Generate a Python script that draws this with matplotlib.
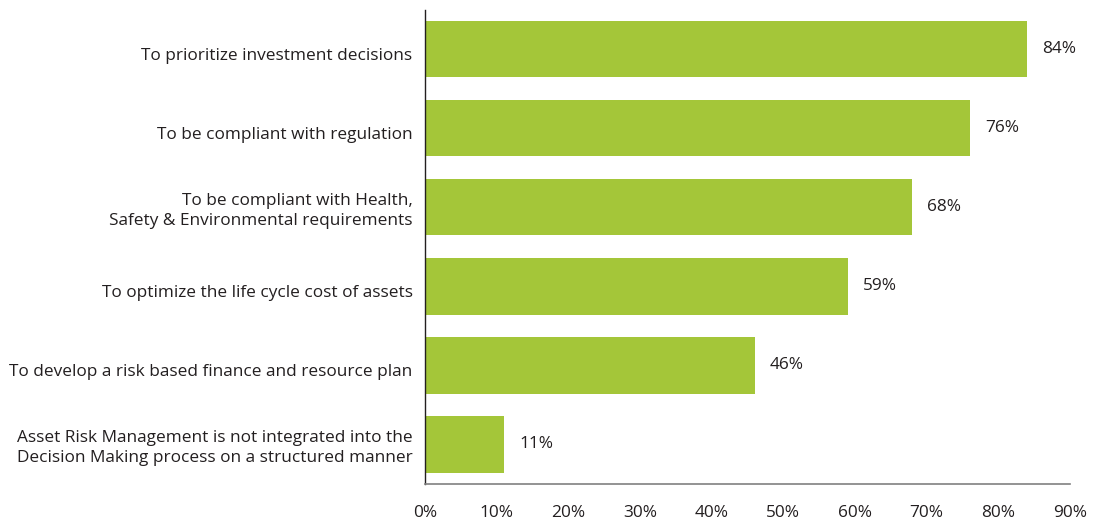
import matplotlib.pyplot as plt
import matplotlib.transforms as mtransforms
import numpy as np

plt.rcParams['font.family'] = ['Open Sans', 'DejaVu Sans']

categories = [
    'To prioritize investment decisions',
    'To be compliant with regulation',
    'To be compliant with Health,\nSafety & Environmental requirements',
    'To optimize the life cycle cost of assets',
    'To develop a risk based finance and resource plan',
    'Asset Risk Management is not integrated into the\nDecision Making process on a structured manner',
]
values = [84, 76, 68, 59, 46, 11]
xticks = [0, 10, 20, 30, 40, 50, 60, 70, 80, 90]

text_color = '#231f20'
bar_color = '#a4c639'
fs = 12.4

fig = plt.figure(figsize=(11.06, 5.21), dpi=100)
ax = fig.add_axes([0.3843, 0.071, 0.5832, 0.910])

y = np.arange(len(categories))
ax.barh(y, values, height=0.71, color=bar_color)

for yi, v in zip(y, values):
    ax.text(v + 2.1, yi, f'{v}%', va='center', ha='left', fontsize=fs, color=text_color)

ax.set_ylim(len(categories) - 0.5, -0.5)
ax.set_xlim(0, 90)
ax.set_yticks(y)
ax.set_yticklabels(categories, fontsize=fs, color=text_color, ha='right',
                   multialignment='right', linespacing=1.3)
ax.set_xticks(xticks)
ax.set_xticklabels([f'{t}%' for t in xticks], fontsize=fs, color=text_color)
ax.tick_params(axis='y', length=0, pad=9)
ax.tick_params(axis='x', length=0, pad=15)

# single-line labels sit a little below the bar centre in the original
shift = mtransforms.ScaledTranslation(0, -5 / 100, fig.dpi_scale_trans)
for lab in ax.get_yticklabels():
    if '\n' not in lab.get_text():
        lab.set_transform(lab.get_transform() + shift)

for s in ['top', 'right']:
    ax.spines[s].set_visible(False)
ax.spines['left'].set_color('#231f20')
ax.spines['left'].set_linewidth(1.0)
ax.spines['bottom'].set_color('#808080')
ax.spines['bottom'].set_linewidth(1.2)

plt.savefig('out.png', dpi=100)
